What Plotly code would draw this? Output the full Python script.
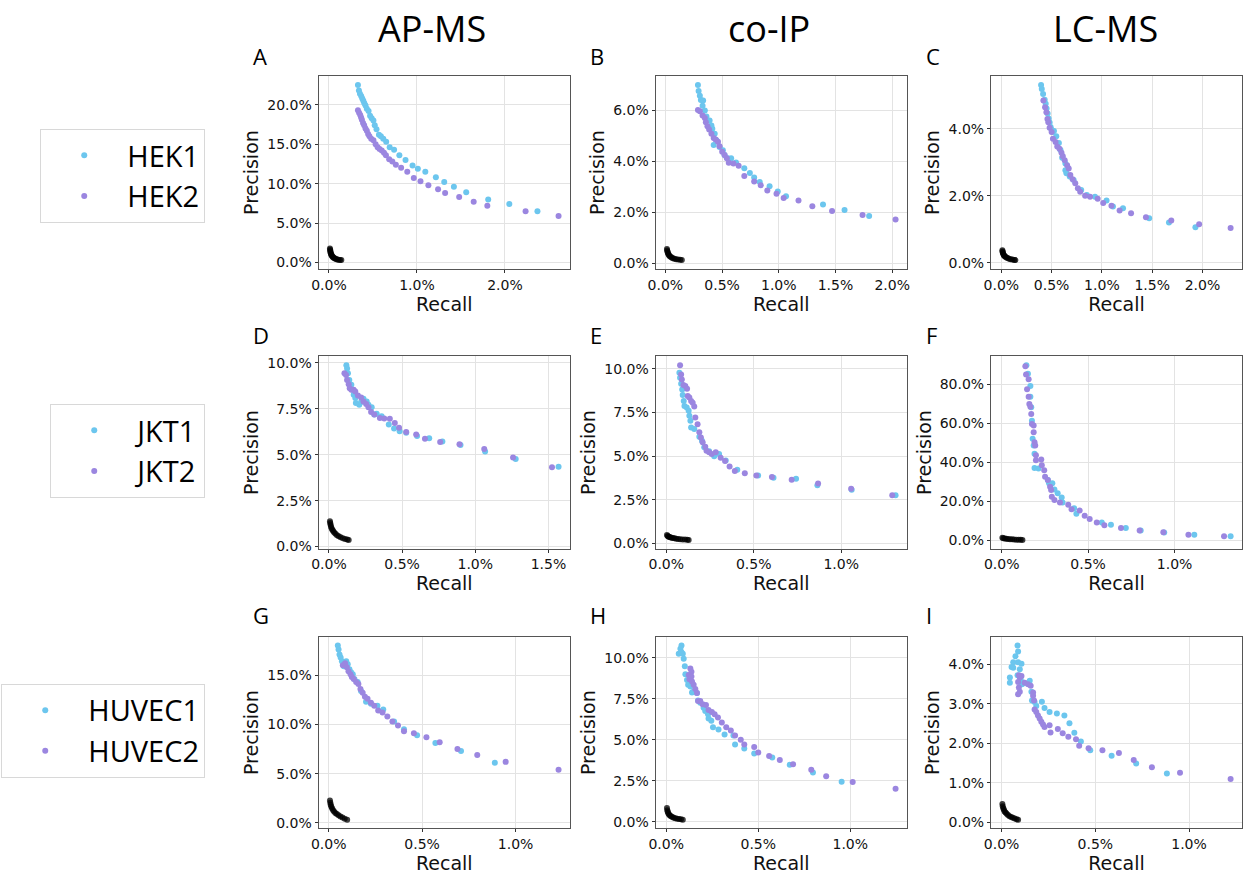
import plotly.graph_objects as go
from plotly.subplots import make_subplots

# ---------------- data (Recall %, Precision %) ----------------
# Row 1: HEK  (A: AP-MS, B: co-IP, C: LC-MS)
A_rep1_x = [0.329,0.34,0.352,0.366,0.378,0.39,0.402,0.415,0.43,0.45,0.467,0.485,0.505,0.52,0.54,0.568,0.59,0.617,0.65,0.69,0.74,0.80,0.87,0.95,1.01,1.095,1.215,1.31,1.42,1.56,1.81,2.05,2.37]
A_rep1_y = [22.5,21.8,21.4,21.1,20.8,20.5,20.2,19.9,19.5,19.2,18.6,18.3,18.0,17.4,16.9,16.2,16.0,15.7,15.3,14.6,14.3,13.6,13.0,12.3,11.9,11.5,10.8,10.2,9.6,8.9,8.0,7.4,6.5]
A_rep2_x = [0.329,0.342,0.355,0.365,0.374,0.387,0.40,0.415,0.43,0.445,0.46,0.48,0.505,0.53,0.553,0.575,0.6,0.625,0.647,0.684,0.72,0.76,0.82,0.89,0.964,1.04,1.13,1.24,1.32,1.48,1.645,1.8,2.235,2.61]
A_rep2_y = [19.3,19.0,18.7,18.4,18.1,17.7,17.4,17.0,16.7,16.3,16.0,15.7,15.5,15.0,14.6,14.4,14.2,13.9,13.6,13.1,12.8,12.4,12.0,11.5,10.7,10.3,9.8,9.3,8.8,8.3,7.7,7.2,6.5,5.9]
A_rand_x = [0.011,0.013,0.015,0.017,0.02,0.024,0.028,0.033,0.04,0.048,0.057,0.068,0.08,0.093,0.108,0.125,0.14]
A_rand_y = [1.76,1.6,1.45,1.32,1.18,1.05,0.94,0.84,0.74,0.65,0.57,0.5,0.44,0.39,0.35,0.32,0.3]

B_rep1_x = [0.287,0.293,0.304,0.313,0.333,0.328,0.348,0.362,0.39,0.406,0.414,0.435,0.45,0.426,0.478,0.507,0.522,0.55,0.58,0.623,0.696,0.745,0.783,0.832,0.919,0.991,1.064,1.39,1.58,1.797]
B_rep1_y = [7.0,6.77,6.58,6.41,6.39,6.19,6.0,5.76,5.61,5.41,5.28,5.09,4.83,4.64,4.57,4.44,4.25,4.12,4.12,3.96,3.73,3.54,3.37,3.19,3.02,2.82,2.63,2.31,2.09,1.85]
B_rep2_x = [0.287,0.304,0.328,0.348,0.357,0.371,0.386,0.406,0.426,0.443,0.464,0.478,0.501,0.522,0.542,0.559,0.6,0.646,0.696,0.783,0.841,0.899,0.98,1.043,1.174,1.296,1.47,1.739,2.03]
B_rep2_y = [6.02,5.97,5.8,5.71,5.54,5.38,5.25,5.09,4.92,4.86,4.77,4.6,4.38,4.25,4.12,3.95,3.92,3.83,3.43,3.21,3.06,2.86,2.73,2.56,2.46,2.24,2.05,1.89,1.72]
B_rand_x = [0.014,0.016,0.019,0.022,0.026,0.031,0.037,0.045,0.055,0.066,0.08,0.095,0.112,0.13,0.145]
B_rand_y = [0.56,0.5,0.45,0.4,0.36,0.32,0.28,0.25,0.22,0.19,0.17,0.15,0.14,0.13,0.12]

C_rep1_x = [0.395,0.402,0.415,0.431,0.441,0.45,0.46,0.47,0.48,0.49,0.5,0.51,0.523,0.546,0.572,0.588,0.605,0.637,0.637,0.647,0.68,0.719,0.794,0.85,0.931,1.046,1.11,1.21,1.47,1.667,1.93]
C_rep1_y = [5.3,5.18,5.03,4.86,4.74,4.6,4.45,4.3,4.18,4.05,3.97,3.9,3.93,3.77,3.57,3.36,3.13,2.96,2.76,2.67,2.57,2.47,2.17,2.02,1.97,1.86,1.68,1.63,1.33,1.2,1.06]
C_rep2_x = [0.418,0.435,0.448,0.458,0.467,0.48,0.5,0.513,0.539,0.556,0.578,0.598,0.611,0.63,0.654,0.67,0.686,0.709,0.735,0.761,0.784,0.833,0.882,0.958,1.013,1.095,1.176,1.29,1.438,1.69,1.967,2.28]
C_rep2_y = [4.84,4.64,4.49,4.29,4.19,4.03,3.9,3.7,3.6,3.47,3.4,3.28,3.18,3.06,2.91,2.81,2.62,2.49,2.37,2.22,2.12,2.0,1.97,1.91,1.78,1.7,1.56,1.48,1.36,1.26,1.15,1.04]
C_rand_x = [0.01,0.012,0.014,0.017,0.021,0.026,0.032,0.04,0.05,0.062,0.076,0.092,0.11,0.128,0.14]
C_rand_y = [0.375,0.34,0.31,0.28,0.25,0.22,0.2,0.18,0.16,0.14,0.12,0.105,0.095,0.085,0.08]

# Row 2: JKT
D_rep1_x = [0.119,0.124,0.13,0.139,0.153,0.162,0.169,0.18,0.184,0.207,0.22,0.236,0.258,0.27,0.292,0.31,0.326,0.36,0.409,0.445,0.483,0.528,0.602,0.685,0.775,0.899,1.067,1.276,1.569]
D_rep1_y = [9.87,9.69,9.43,9.07,8.8,8.53,8.26,8.08,7.81,7.72,7.86,8.04,7.9,7.72,7.58,7.18,7.22,7.09,6.64,6.43,6.28,6.19,6.01,5.89,5.71,5.53,5.17,4.76,4.34]
D_rep2_x = [0.106,0.117,0.124,0.135,0.142,0.153,0.169,0.18,0.198,0.22,0.236,0.254,0.27,0.288,0.31,0.348,0.378,0.416,0.45,0.479,0.528,0.596,0.656,0.76,0.892,1.061,1.258,1.524]
D_rep2_y = [9.43,9.34,9.07,8.83,8.62,8.53,8.53,8.44,8.22,8.11,7.9,7.76,7.58,7.32,7.18,7.0,6.97,6.95,6.73,6.46,6.23,6.1,5.87,5.69,5.57,5.31,4.85,4.31]
D_rand_x = [0.007,0.009,0.011,0.014,0.018,0.023,0.029,0.036,0.045,0.055,0.067,0.08,0.095,0.11,0.125,0.135]
D_rand_y = [1.38,1.28,1.18,1.09,1.0,0.92,0.84,0.76,0.69,0.62,0.56,0.5,0.45,0.41,0.38,0.36]

E_rep1_x = [0.075,0.079,0.085,0.091,0.094,0.1,0.104,0.117,0.128,0.132,0.138,0.142,0.16,0.189,0.204,0.217,0.245,0.274,0.302,0.34,0.406,0.525,0.613,0.742,0.864,1.06,1.311]
E_rep1_y = [9.77,9.49,9.15,8.82,8.5,8.16,7.87,7.78,7.59,7.31,7.02,6.64,6.55,6.11,5.88,5.5,5.28,4.99,5.12,4.74,4.21,3.89,3.76,3.7,3.32,3.07,2.75]
E_rep2_x = [0.079,0.085,0.089,0.098,0.109,0.119,0.123,0.132,0.142,0.151,0.16,0.166,0.179,0.189,0.198,0.208,0.223,0.23,0.245,0.26,0.283,0.311,0.336,0.362,0.392,0.449,0.515,0.604,0.717,0.868,1.057,1.292]
E_rep2_y = [10.21,9.68,9.39,9.07,9.01,8.86,8.44,8.35,8.16,8.06,7.84,7.21,6.83,6.36,6.07,5.79,5.54,5.31,5.22,5.12,5.22,4.9,4.71,4.4,4.14,4.02,3.89,3.8,3.64,3.42,3.13,2.75]
E_rand_x = [0.004,0.008,0.012,0.017,0.023,0.03,0.038,0.047,0.057,0.068,0.08,0.093,0.107,0.12,0.128]
E_rand_y = [0.47,0.42,0.39,0.36,0.34,0.32,0.3,0.28,0.26,0.25,0.23,0.22,0.21,0.2,0.19]

F_rep1_x = [0.143,0.152,0.166,0.166,0.171,0.175,0.179,0.185,0.19,0.19,0.213,0.267,0.274,0.293,0.305,0.324,0.347,0.352,0.419,0.432,0.579,0.632,0.718,0.804,0.94,1.114,1.324]
F_rep1_y = [89.8,85.4,79.2,73.6,68.2,61.4,52.1,48.7,44.5,37.2,36.9,31.0,29.3,29.3,26.2,24.2,22.0,19.5,16.6,13.7,9.3,8.1,6.4,5.1,4.1,3.0,2.2]
F_rep2_x = [0.137,0.141,0.156,0.147,0.156,0.16,0.166,0.171,0.175,0.185,0.185,0.19,0.194,0.198,0.198,0.229,0.232,0.246,0.251,0.267,0.28,0.286,0.29,0.305,0.337,0.385,0.404,0.451,0.48,0.509,0.55,0.594,0.69,0.798,0.935,1.08,1.286]
F_rep2_y = [89.3,85.0,82.6,77.5,73.6,69.9,68.5,64.8,59.7,58.9,55.5,50.4,48.7,43.7,41.1,41.5,38.6,36.0,32.7,31.0,27.6,25.9,22.5,20.8,19.5,18.3,16.1,15.4,12.7,11.0,9.3,7.8,6.4,5.2,4.2,3.0,2.2]
F_rand_x = [0.004,0.01,0.018,0.027,0.037,0.048,0.06,0.072,0.085,0.098,0.11,0.12]
F_rand_y = [1.4,1.2,1.05,0.92,0.8,0.7,0.62,0.55,0.48,0.42,0.37,0.33]

# Row 3: HUVEC
G_rep1_x = [0.049,0.053,0.058,0.064,0.071,0.081,0.094,0.102,0.111,0.12,0.129,0.138,0.155,0.173,0.2,0.226,0.261,0.292,0.35,0.403,0.473,0.571,0.708,0.889]
G_rep1_y = [18.0,17.6,17.1,16.8,16.4,15.9,16.4,16.1,15.6,15.3,15.1,14.6,14.3,13.4,12.3,12.1,11.9,11.5,10.3,9.5,8.9,8.1,7.3,6.1]
G_rep2_x = [0.076,0.088,0.097,0.106,0.117,0.124,0.134,0.147,0.159,0.17,0.182,0.194,0.208,0.226,0.244,0.265,0.288,0.314,0.341,0.371,0.403,0.456,0.523,0.594,0.689,0.795,0.947,1.23]
G_rep2_y = [16.0,16.2,15.8,15.4,15.1,14.8,14.6,14.3,14.1,13.6,13.2,12.8,12.6,12.2,11.9,11.4,11.2,10.8,10.3,9.9,9.3,9.1,8.7,8.2,7.5,6.9,6.2,5.4]
G_rand_x = [0.007,0.009,0.011,0.014,0.018,0.023,0.029,0.036,0.044,0.053,0.063,0.074,0.086,0.099]
G_rand_y = [2.27,2.05,1.85,1.66,1.48,1.31,1.16,1.02,0.9,0.78,0.66,0.54,0.43,0.33]

H_rep1_x = [0.083,0.077,0.068,0.083,0.09,0.095,0.101,0.104,0.113,0.119,0.131,0.14,0.149,0.167,0.173,0.185,0.203,0.212,0.227,0.23,0.245,0.254,0.284,0.317,0.365,0.374,0.424,0.478,0.576,0.671,0.797,0.953]
H_rep1_y = [10.74,10.54,10.24,10.34,10.24,9.94,9.48,9.0,8.65,8.35,8.25,7.89,7.95,7.85,7.4,7.26,6.96,6.76,6.56,6.3,6.16,5.77,5.63,5.33,5.27,4.71,4.47,4.17,3.92,3.48,3.02,2.45]
H_rep2_x = [0.131,0.137,0.122,0.126,0.137,0.14,0.149,0.158,0.167,0.173,0.185,0.198,0.216,0.23,0.248,0.263,0.281,0.302,0.326,0.351,0.374,0.405,0.424,0.478,0.5,0.559,0.617,0.689,0.788,0.869,1.013,1.246]
H_rep2_y = [9.34,9.15,8.95,8.69,8.85,8.55,8.35,8.09,7.85,7.36,7.36,7.16,7.12,6.82,6.7,6.56,6.36,6.06,5.77,5.57,5.27,5.01,4.71,4.57,4.23,4.02,3.78,3.52,3.18,2.78,2.43,2.03]
H_rand_x = [0.004,0.006,0.008,0.011,0.015,0.02,0.026,0.033,0.041,0.05,0.06,0.07,0.08,0.09]
H_rand_y = [0.85,0.72,0.62,0.53,0.46,0.4,0.35,0.3,0.26,0.23,0.2,0.18,0.16,0.14]

I_rep1_x = [0.085,0.088,0.074,0.062,0.053,0.062,0.088,0.106,0.097,0.044,0.044,0.085,0.102,0.109,0.12,0.15,0.159,0.162,0.176,0.185,0.215,0.229,0.256,0.295,0.335,0.362,0.388,0.423,0.473,0.587,0.718,0.882]
I_rep1_y = [4.48,4.33,4.21,4.06,3.94,3.92,4.06,4.02,3.88,3.67,3.54,3.73,3.61,3.5,3.54,3.59,3.31,3.09,3.05,2.95,3.06,2.9,2.8,2.76,2.71,2.51,2.27,2.05,1.83,1.69,1.49,1.24]
I_rep2_x = [0.092,0.097,0.088,0.092,0.097,0.088,0.106,0.123,0.141,0.155,0.168,0.168,0.173,0.176,0.185,0.194,0.203,0.212,0.221,0.229,0.256,0.261,0.3,0.326,0.356,0.397,0.414,0.464,0.538,0.626,0.705,0.802,0.952,1.222]
I_rep2_y = [3.73,3.67,3.56,3.42,3.31,3.25,3.71,3.54,3.5,3.46,3.29,3.21,3.09,2.86,2.8,2.71,2.63,2.55,2.48,2.42,2.46,2.28,2.37,2.26,2.17,2.11,1.94,1.88,1.83,1.76,1.58,1.4,1.26,1.1]
I_rand_x = [0.004,0.006,0.009,0.012,0.016,0.021,0.027,0.034,0.042,0.051,0.06,0.07,0.08,0.088]
I_rand_y = [0.47,0.41,0.36,0.32,0.28,0.25,0.22,0.19,0.16,0.14,0.12,0.1,0.08,0.07]

column_titles = ["AP-MS", "co-IP", "LC-MS"]
row_names = [["HEK1", "HEK2"], ["JKT1", "JKT2"], ["HUVEC1", "HUVEC2"]]
panel_letters = ["A", "B", "C", "D", "E", "F", "G", "H", "I"]

x_ticks = [[0, 1, 2], [0, 0.5, 1, 1.5, 2], [0, 0.5, 1, 1.5, 2],
           [0, 0.5, 1, 1.5], [0, 0.5, 1], [0, 0.5, 1],
           [0, 0.5, 1], [0, 0.5, 1], [0, 0.5, 1]]
y_ticks = [[0, 5, 10, 15, 20], [0, 2, 4, 6], [0, 2, 4],
           [0, 2.5, 5, 7.5, 10], [0, 2.5, 5, 7.5, 10], [0, 20, 40, 60, 80],
           [0, 5, 10, 15], [0, 2.5, 5, 7.5, 10], [0, 1, 2, 3, 4]]

panels = [
    (A_rep1_x, A_rep1_y, A_rep2_x, A_rep2_y, A_rand_x, A_rand_y),
    (B_rep1_x, B_rep1_y, B_rep2_x, B_rep2_y, B_rand_x, B_rand_y),
    (C_rep1_x, C_rep1_y, C_rep2_x, C_rep2_y, C_rand_x, C_rand_y),
    (D_rep1_x, D_rep1_y, D_rep2_x, D_rep2_y, D_rand_x, D_rand_y),
    (E_rep1_x, E_rep1_y, E_rep2_x, E_rep2_y, E_rand_x, E_rand_y),
    (F_rep1_x, F_rep1_y, F_rep2_x, F_rep2_y, F_rand_x, F_rand_y),
    (G_rep1_x, G_rep1_y, G_rep2_x, G_rep2_y, G_rand_x, G_rand_y),
    (H_rep1_x, H_rep1_y, H_rep2_x, H_rep2_y, H_rand_x, H_rand_y),
    (I_rep1_x, I_rep1_y, I_rep2_x, I_rep2_y, I_rand_x, I_rand_y),
]

# ---------------- styling / layout ----------------
W, H = 1247, 877
CYAN = "#6CC6EE"
PURPLE = "#9B86E0"
TICK_FONT = dict(family="DejaVu Sans", size=14, color="#111")
LABEL_FONT = dict(family="DejaVu Sans", size=19, color="#111")
TEXT_FAMILY = "Open Sans"

col_px = [(313.3, 567.0), (653.3, 907.0), (991.7, 1245.0)]
row_px = [(75.0, 269.3), (357.7, 551.7), (640.7, 834.0)]

fig = make_subplots(rows=3, cols=3)
legend_keys = ["legend", "legend2", "legend3"]

def pct_range(vals):
    lo, hi = min(vals), max(vals)
    span = hi - lo
    return [lo - 0.05 * span, hi + 0.05 * span]

for i, (x1, y1, x2, y2, xr, yr) in enumerate(panels):
    r, c = i // 3, i % 3
    show = (c == 0)
    leg = legend_keys[r]
    fig.add_trace(go.Scatter(x=xr, y=yr, mode="markers", showlegend=False,
                             marker=dict(color="black", size=6, opacity=0.75, line=dict(width=0)),
                             hoverinfo="skip"), row=r + 1, col=c + 1)
    fig.add_trace(go.Scatter(x=x1, y=y1, mode="markers", name=row_names[r][0],
                             showlegend=show, legend=leg,
                             marker=dict(color=CYAN, size=6, line=dict(width=0))),
                  row=r + 1, col=c + 1)
    fig.add_trace(go.Scatter(x=x2, y=y2, mode="markers", name=row_names[r][1],
                             showlegend=show, legend=leg,
                             marker=dict(color=PURPLE, size=6, line=dict(width=0))),
                  row=r + 1, col=c + 1)

    xall = x1 + x2 + xr
    yall = y1 + y2 + yr
    x0, x1p = col_px[c]
    yt, yb = row_px[r]
    common = dict(showline=True, linecolor="#555", linewidth=1, mirror=True,
                  ticks="outside", ticklen=3, tickcolor="#333", tickwidth=1,
                  showgrid=True, gridcolor="#e3e3e3", gridwidth=1, zeroline=False,
                  tickfont=TICK_FONT)
    fig.update_xaxes(row=r + 1, col=c + 1,
                     domain=[x0 / W, x1p / W], range=pct_range(xall),
                     tickvals=x_ticks[i], ticktext=[f"{v:.1f}%" for v in x_ticks[i]],
                     title=dict(text="Recall", font=LABEL_FONT, standoff=0), **common)
    fig.update_yaxes(row=r + 1, col=c + 1,
                     domain=[1 - yb / H, 1 - yt / H], range=pct_range(yall),
                     tickvals=y_ticks[i], ticktext=[f"{v:.1f}%" for v in y_ticks[i]],
                     title=dict(text="Precision", font=LABEL_FONT, standoff=3), **common)

annotations = []
title_x = [428, 768, 1107]
for c, t in enumerate(column_titles):
    annotations.append(dict(text=t, x=title_x[c] / W, y=1 - 27 / H, xref="paper", yref="paper",
                            xanchor="center", yanchor="middle", showarrow=False,
                            font=dict(family=TEXT_FAMILY, size=36, color="black")))
letter_x = [245, 585, 924]
letter_y = [54, 336, 618.5]
for i, L in enumerate(panel_letters):
    r, c = i // 3, i % 3
    annotations.append(dict(text=L, x=letter_x[c] / W, y=1 - letter_y[r] / H, xref="paper", yref="paper",
                            xanchor="left", yanchor="middle", showarrow=False,
                            font=dict(family=TEXT_FAMILY, size=22, color="black")))

legend_style = dict(xanchor="right", yanchor="middle", x=199 / W,
                    bgcolor="white", bordercolor="#d8d8d8", borderwidth=1,
                    font=dict(family=TEXT_FAMILY, size=29, color="black"),
                    itemwidth=76, tracegroupgap=0)
legend_centers = [175.5, 453, 735.5]

fig.update_layout(
    width=W, height=H, autosize=False,
    margin=dict(l=0, r=0, t=0, b=0),
    paper_bgcolor="white", plot_bgcolor="white",
    annotations=annotations,
    legend=dict(y=1 - legend_centers[0] / H, **legend_style),
    legend2=dict(y=1 - legend_centers[1] / H, **legend_style),
    legend3=dict(y=1 - legend_centers[2] / H, **legend_style),
)

fig.write_html("out.html")
